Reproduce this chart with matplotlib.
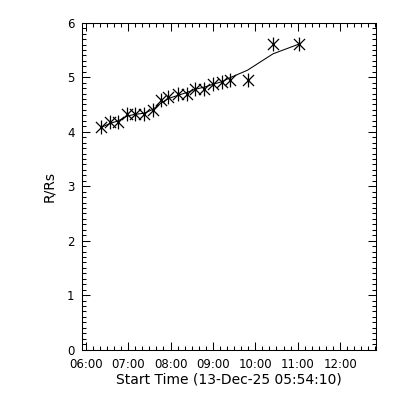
import matplotlib
matplotlib.use("Agg")
import matplotlib.pyplot as plt
from matplotlib.path import Path
from matplotlib.ticker import MultipleLocator, FixedLocator

# Data (times as HH:MM, radius in R/Rs)
times = ["06:22", "06:34", "06:46", "06:59", "07:10", "07:23", "07:35", "07:47",
         "07:57", "08:11", "08:23", "08:35", "08:48", "09:00", "09:13", "09:24",
         "09:49", "10:25", "11:02"]
radius = [4.08, 4.17, 4.18, 4.32, 4.32, 4.32, 4.39, 4.58, 4.63, 4.69, 4.70,
          4.79, 4.79, 4.87, 4.91, 4.95, 4.95, 5.61, 5.61]
fit_values = [4.08, 4.15, 4.20, 4.29, 4.32, 4.34, 4.41, 4.53, 4.61, 4.67, 4.72,
              4.78, 4.82, 4.87, 4.92, 4.99, 5.13, 5.43, 5.61]
tick_labels = ["06:00", "07:00", "08:00", "09:00", "10:00", "11:00", "12:00"]
start_label = "Start Time (13-Dec-25 05:54:10)"
start_hours = 5 + 54 / 60 + 10 / 3600
span_seconds = 25000


def to_hours(s):
    h, m = s.split(":")
    return int(h) + int(m) / 60


t = [to_hours(s) for s in times]
tick_pos = [to_hours(s) for s in tick_labels]

# IDL-like asterisk marker: vertical line plus an X
verts = [(0, -1), (0, 1), (-0.8, -0.8), (0.8, 0.8), (-0.8, 0.8), (0.8, -0.8)]
codes = [Path.MOVETO, Path.LINETO] * 3
star = Path(verts, codes)

fig = plt.figure(figsize=(4, 4), dpi=100)
ax = fig.add_axes([0.204, 0.126, 0.736, 0.817])

ax.plot(t, fit_values, color="black", lw=0.75)
ax.plot(t, radius, linestyle="none", marker=star, markersize=10,
        markeredgecolor="black", markeredgewidth=0.9, color="black")

ax.set_xlim(start_hours, start_hours + span_seconds / 3600)
ax.set_ylim(0, 6)

ax.xaxis.set_major_locator(FixedLocator(tick_pos))
ax.set_xticklabels(tick_labels)
ax.xaxis.set_minor_locator(MultipleLocator(1 / 6))
ax.yaxis.set_major_locator(MultipleLocator(1))
ax.yaxis.set_minor_locator(MultipleLocator(0.1))

ax.tick_params(which="both", direction="in", top=True, right=True,
               width=0.75, labelsize=8.5, color="black")
ax.tick_params(which="major", length=6)
ax.tick_params(which="minor", length=3)
ax.tick_params(axis="x", pad=6)
ax.tick_params(axis="y", pad=5)
for sp in ax.spines.values():
    sp.set_linewidth(0.75)

ax.set_xlabel(start_label, fontsize=10, labelpad=1)
ax.set_ylabel("R/Rs", fontsize=10, labelpad=8)

fig.savefig("out.png", dpi=100)
